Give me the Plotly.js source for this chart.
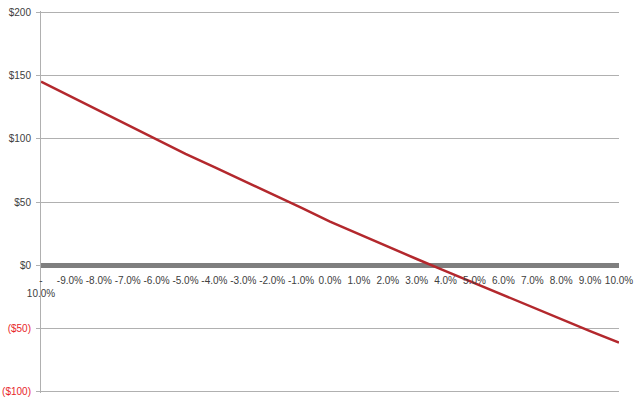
<!DOCTYPE html>
<html>
<head>
<meta charset="utf-8">
<script src="https://cdn.plot.ly/plotly-3.0.1.min.js"></script>
<style>html,body{margin:0;padding:0;background:#fff;}#chart{width:640px;height:402px;}</style>
</head>
<body>
<div id="chart"></div>
<script>
// Rates (x categories) and their labels
const rates = [-10, -9, -8, -7, -6, -5, -4, -3, -2, -1, 0, 1, 2, 3, 4, 5, 6, 7, 8, 9, 10];
const rateLabels = ["-<br>10.0%", "-9.0%", "-8.0%", "-7.0%", "-6.0%", "-5.0%", "-4.0%", "-3.0%", "-2.0%", "-1.0%",
  "0.0%", "1.0%", "2.0%", "3.0%", "4.0%", "5.0%", "6.0%", "7.0%", "8.0%", "9.0%", "10.0%"];
// Series values
const values = [145, 133.5, 122, 110.5, 99, 88, 77.5, 67, 56, 45.5, 34.5, 24.5, 14.5, 5, -4.5, -14, -24, -33, -42.5, -52, -61];
// Y ticks
const yTickVals = [-100, -50, 0, 50, 100, 150, 200];
const yTickText = ['<span style="color:#e8262a">($100)</span>', '<span style="color:#e8262a">($50)</span>',
  '$0', '$50', '$100', '$150', '$200'];

const font = "Liberation Sans, Arial, sans-serif";
const trace = {
  x: rates, y: values, type: 'scatter', mode: 'lines',
  line: {color: '#b3282d', width: 2.5}, hoverinfo: 'skip'
};
const layout = {
  width: 640, height: 402,
  margin: {l: 41, r: 21, t: 11, b: 9},
  paper_bgcolor: '#fff', plot_bgcolor: '#fff',
  showlegend: false,
  font: {family: font, size: 10, color: '#404040'},
  xaxis: {
    type: 'linear', range: [-10, 10],
    tickmode: 'array', tickvals: rates, ticktext: rateLabels,
    showgrid: false, zeroline: false, showline: false, ticks: '',
    anchor: 'free', position: 100.8 / 301.6,
    ticklabelstandoff: 8, tickangle: 0,
    tickfont: {family: font, size: 10, color: '#404040'}
  },
  yaxis: {
    range: [-100.8, 200.8], domain: [0, 1],
    tickmode: 'array', tickvals: yTickVals, ticktext: yTickText,
    showgrid: true, gridcolor: '#b0b0b0', gridwidth: 1,
    zeroline: true, zerolinecolor: '#7f7f7f', zerolinewidth: 5,
    showline: true, linecolor: '#b0b0b0', linewidth: 1,
    ticks: 'outside', ticklen: 4, tickcolor: '#b0b0b0',
    ticklabelstandoff: 3,
    tickfont: {family: font, size: 10, color: '#404040'}
  }
};
Plotly.newPlot('chart', [trace], layout, {displayModeBar: false, staticPlot: true});
</script>
</body>
</html>
